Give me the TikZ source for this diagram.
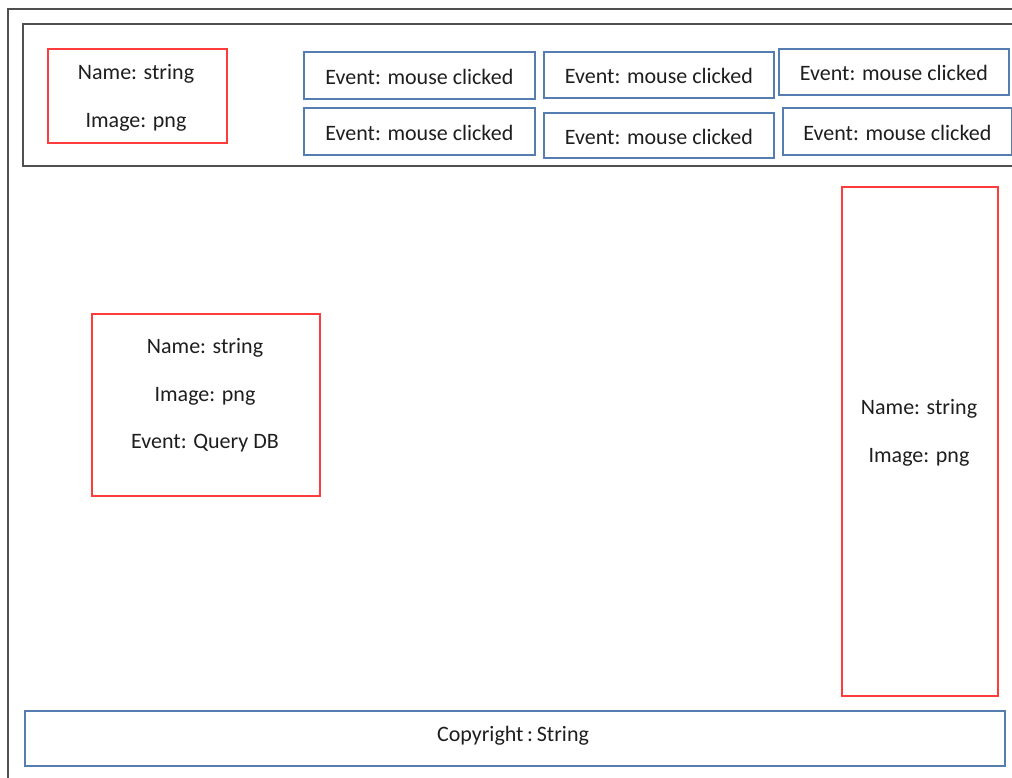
\documentclass[tikz,border=0pt]{standalone}
\usepackage{fontspec}
\setmainfont{Carlito}
\definecolor{framegray}{RGB}{80,80,80}
\definecolor{boxred}{RGB}{255,60,60}
\definecolor{boxblue}{RGB}{85,125,175}
\definecolor{txt}{RGB}{30,30,30}
\tikzset{
  frame/.style={draw=framegray, line width=2.4pt},
  redbox/.style={draw=boxred, line width=1.7pt, anchor=north west, inner sep=0pt},
  bluebox/.style={draw=boxblue, line width=1.7pt, anchor=north west, inner sep=0pt},
  label/.style={text=txt, font=\fontsize{22}{26}\selectfont, inner sep=0pt, anchor=center}
}
\begin{document}
\begin{tikzpicture}[x=1pt,y=-1pt]
  \useasboundingbox (0,0) rectangle (1012,778);
  % page frame and header bar, both running past the right edge
  \draw[frame] (8,778) -- (8,9) -- (1012,9);
  \draw[frame] (1012,24) -- (23,24) -- (23,166) -- (1012,166);

  % header: logo box
  \node[redbox, minimum width=179pt, minimum height=94pt] (logo) at (47,48) {};
  \node[label] (logoname) at (136,74) {Name: string};
  \node[label] (logoimg) at (136,122) {Image: png};

  % header: event buttons
  \node[bluebox, minimum width=231pt, minimum height=47pt] (ev11) at (303,51) {};
  \node[label] at ([yshift=-1.5pt]ev11.center) (t11) {Event: mouse clicked};
  \node[bluebox, minimum width=231pt, minimum height=47pt] (ev21) at (303,107) {};
  \node[label] at ([yshift=-1.5pt]ev21.center) (t21) {Event: mouse clicked};
  \node[bluebox, minimum width=230pt, minimum height=46pt] (ev12) at (543,51) {};
  \node[label] at ([yshift=-1.5pt]ev12.center) (t12) {Event: mouse clicked};
  \node[bluebox, minimum width=230pt, minimum height=45pt] (ev22) at (543,112) {};
  \node[label] at ([yshift=-1.5pt]ev22.center) (t22) {Event: mouse clicked};
  \node[bluebox, minimum width=230pt, minimum height=46pt] (ev13) at (778,48) {};
  \node[label] at ([yshift=-1.5pt]ev13.center) (t13) {Event: mouse clicked};
  \node[bluebox, minimum width=229pt, minimum height=47pt] (ev23) at (782,107) {};
  \node[label] at ([yshift=-1.5pt]ev23.center) (t23) {Event: mouse clicked};

  % content panel
  \node[redbox, minimum width=228pt, minimum height=182pt] (panel) at (91,313) {};
  \node[label] (pname) at (205,348) {Name: string};
  \node[label] (pimg) at (205,396) {Image: png};
  \node[label] (pevt) at (205,443) {Event: Query DB};

  % side bar
  \node[redbox, minimum width=156pt, minimum height=509pt] (side) at (841,186) {};
  \node[label] (sname) at (919,409) {Name: string};
  \node[label] (simg) at (919,457) {Image: png};

  % footer
  \node[bluebox, minimum width=980pt, minimum height=55pt] (footer) at (24,710) {};
  \node[label] (copy) at (513,736) {Copyright\,:\,String};
\end{tikzpicture}
\end{document}
